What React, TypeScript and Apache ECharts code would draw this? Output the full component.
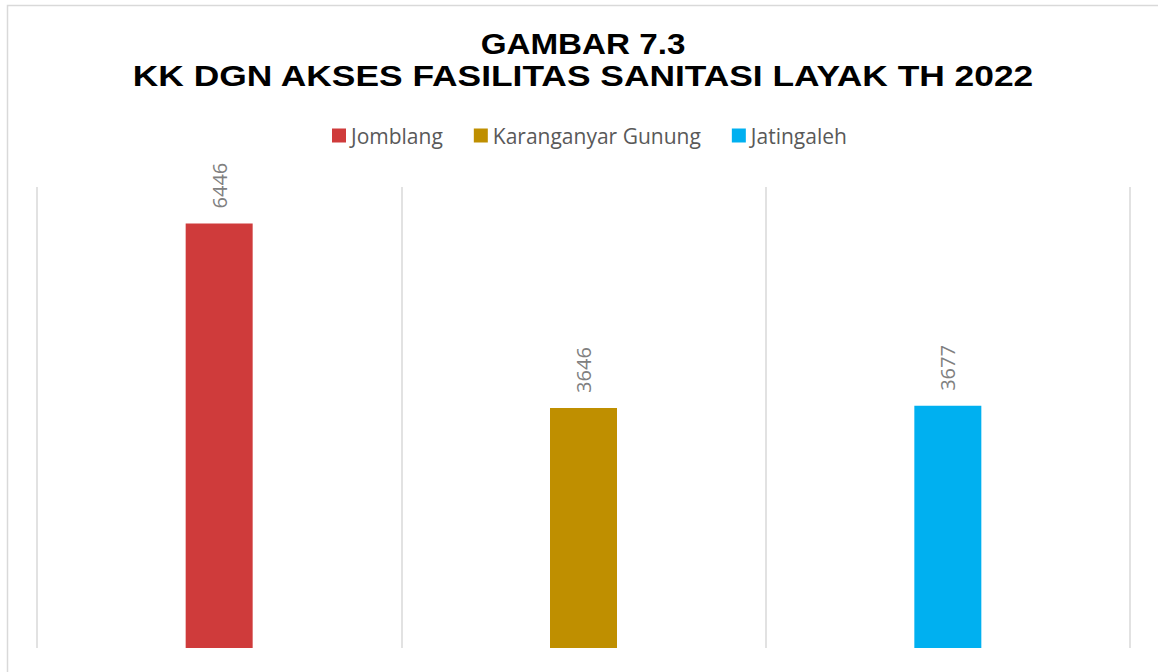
import React, { useEffect, useRef } from "react";
import * as echarts from "echarts";

const titleLines = ["GAMBAR 7.3", "KK DGN AKSES FASILITAS SANITASI LAYAK TH 2022"];
const categories = ["Jomblang", "Karanganyar Gunung", "Jatingaleh"];
const values = [6446, 3646, 3677];
const colors = ["#CF3B3B", "#BF8F00", "#00B0F0"];

export default function App() {
  const ref = useRef<HTMLDivElement>(null);
  useEffect(() => {
    if (!ref.current) return;
    const chart = echarts.init(ref.current, undefined, { renderer: "svg" });
    const series = categories.map((name, i) => ({
      name,
      type: "bar",
      stack: "all",
      barWidth: 67,
      itemStyle: { color: colors[i] },
      data: categories.map((_, j) => (j === i ? values[i] : "-")),
      label: {
        show: true,
        position: "top",
        rotate: 90,
        align: "left",
        verticalAlign: "middle",
        distance: 15,
        color: "#808080",
        fontSize: 20,
        fontFamily: "Open Sans",
      },
    }));
    chart.setOption({
      animation: false,
      backgroundColor: "#ffffff",
      graphic: [
        {
          type: "rect",
          shape: { x: 7.5, y: 5.5, width: 1160, height: 680 },
          style: { fill: "none", stroke: "#d9d9d9", lineWidth: 1.5 },
          silent: true,
        },
        {
          type: "text",
          x: 583,
          y: 44,
          scaleX: 1.145,
          style: {
            text: titleLines[0],
            fontFamily: "Liberation Sans",
            fontWeight: "bold",
            fontSize: 29,
            fill: "#000000",
            align: "center",
            verticalAlign: "middle",
          },
        },
        {
          type: "text",
          x: 583,
          y: 76,
          scaleX: 1.22,
          style: {
            text: titleLines[1],
            fontFamily: "Liberation Sans",
            fontWeight: "bold",
            fontSize: 29,
            fill: "#000000",
            align: "center",
            verticalAlign: "middle",
          },
        },
      ],
      legend: {
        top: 120,
        left: 327,
        icon: "rect",
        itemWidth: 14,
        itemHeight: 14,
        itemGap: 31,
        textStyle: { fontSize: 21, color: "#595959", fontFamily: "Open Sans" },
        data: categories,
      },
      grid: { left: 37, right: 28, top: 187, bottom: 24 },
      xAxis: {
        type: "category",
        data: categories,
        axisLine: { show: false },
        axisTick: { show: false },
        axisLabel: { show: false },
        splitLine: { show: true, lineStyle: { color: "#d9d9d9", width: 1.5 } },
      },
      yAxis: {
        type: "value",
        min: 0,
        max: 7000,
        show: false,
        splitLine: { show: false },
      },
      series,
    });
    return () => chart.dispose();
  }, []);
  return (
    <div
      ref={ref}
      style={{ position: "fixed", left: 0, top: 0, width: 1158, height: 672 }}
    />
  );
}
